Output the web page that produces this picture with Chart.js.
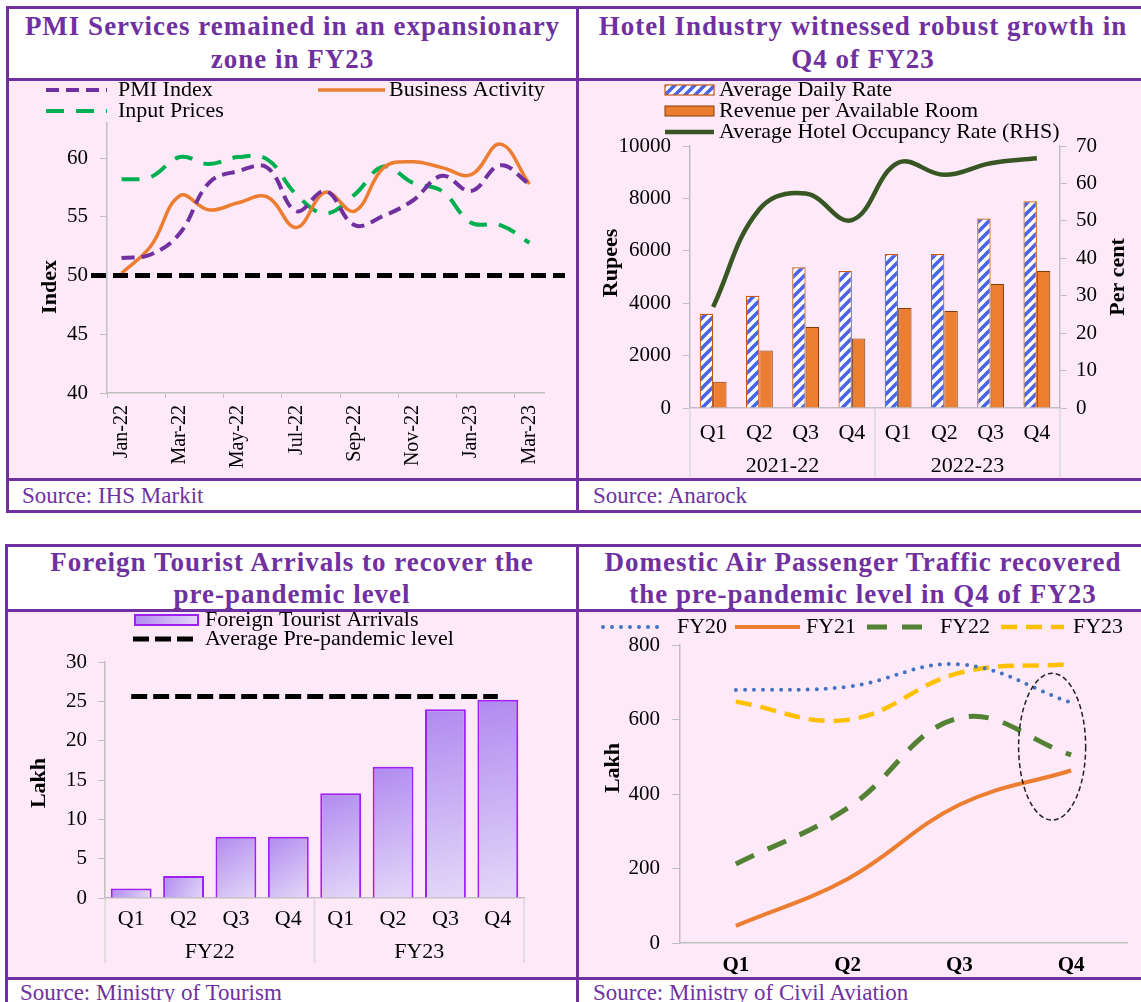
<!DOCTYPE html>
<html>
<head>
<meta charset="utf-8">
<script src="https://cdn.jsdelivr.net/npm/chart.js@4.4.1/dist/chart.umd.min.js"></script>
<style>
  body { margin: 0; background: #fff; width: 1141px; height: 1002px; overflow: hidden; position: relative;
         font-family: "Liberation Serif", "Times New Roman", serif; }
  .box { position: absolute; border: 3px solid #7030A0; box-sizing: border-box; }
  .hl { position: absolute; height: 3px; background: #7030A0; }
  .pink { position: absolute; background: #FDE9F7; }
  .title { position: absolute; color: #7030A0; font-weight: bold; font-size: 27px; letter-spacing: 1px;
           text-align: center; white-space: nowrap; }
  .src { position: absolute; color: #7030A0; font-size: 23px; white-space: nowrap; }
  canvas { position: absolute; }
</style>
</head>
<body>
<!-- top left -->
<div class="box" style="left:6px;top:6px;width:573px;height:507px"></div>
<div class="pink" style="left:9px;top:81px;width:567px;height:397px"></div>
<div class="hl" style="left:6px;top:78px;width:573px"></div>
<div class="hl" style="left:6px;top:478px;width:573px"></div>
<div class="title" style="left:9px;top:10px;width:567px;line-height:33px">PMI Services remained in an expansionary<br>zone in FY23</div>
<div class="src" style="left:22px;top:481px;line-height:29px">Source: IHS Markit</div>
<canvas id="pmi" width="567" height="397" style="left:9px;top:81px"></canvas>

<!-- top right -->
<div class="box" style="left:576px;top:6px;width:580px;height:507px"></div>
<div class="pink" style="left:579px;top:81px;width:574px;height:397px"></div>
<div class="hl" style="left:576px;top:78px;width:580px"></div>
<div class="hl" style="left:576px;top:478px;width:580px"></div>
<div class="title" style="left:579px;top:10px;width:568px;line-height:33px">Hotel Industry witnessed robust growth in<br>Q4 of FY23</div>
<div class="src" style="left:593px;top:481px;line-height:29px">Source: Anarock</div>
<canvas id="hotel" width="562" height="397" style="left:579px;top:81px"></canvas>

<!-- bottom left -->
<div class="box" style="left:5px;top:544px;width:574px;height:480px"></div>
<div class="pink" style="left:8px;top:612px;width:568px;height:365px"></div>
<div class="hl" style="left:5px;top:609px;width:574px"></div>
<div class="hl" style="left:5px;top:977px;width:574px"></div>
<div class="title" style="left:8px;top:546px;width:568px;line-height:32px">Foreign Tourist Arrivals to recover the<br>pre-pandemic level</div>
<div class="src" style="left:20px;top:980px;line-height:26px">Source: Ministry of Tourism</div>
<canvas id="fta" width="568" height="365" style="left:8px;top:612px"></canvas>

<!-- bottom right -->
<div class="box" style="left:576px;top:544px;width:580px;height:480px"></div>
<div class="pink" style="left:579px;top:612px;width:574px;height:365px"></div>
<div class="hl" style="left:576px;top:609px;width:580px"></div>
<div class="hl" style="left:576px;top:977px;width:580px"></div>
<div class="title" style="left:579px;top:546px;width:568px;line-height:32px">Domestic Air Passenger Traffic recovered<br>the pre-pandemic level in Q4 of FY23</div>
<div class="src" style="left:593px;top:980px;line-height:26px">Source: Ministry of Civil Aviation</div>
<canvas id="air" width="562" height="365" style="left:579px;top:612px"></canvas>

<script>
// PMI panel
const pmiMonths = ["Jan-22", "Feb-22", "Mar-22", "Apr-22", "May-22", "Jun-22", "Jul-22", "Aug-22",
  "Sep-22", "Oct-22", "Nov-22", "Dec-22", "Jan-23", "Feb-23", "Mar-23"];
const pmiIndex = [51.5, 51.8, 53.6, 57.9, 58.9, 59.2, 55.5, 57.2, 54.3, 55.1, 56.4, 58.5, 57.2, 59.4, 57.8];
const businessActivity = [50.2, 52.5, 56.8, 55.6, 56.2, 56.7, 54.1, 57.1, 55.5, 59.2, 59.7, 59.2, 58.6, 61.2, 57.8];
const inputPrices = [58.2, 58.4, 60.1, 59.5, 60.1, 59.9, 56.9, 55.3, 56.9, 59.3, 57.9, 57.2, 54.5, 54.3, 52.8];
const pmiThreshold = 50;
const pmiTicks = [40, 45, 50, 55, 60];

// hotel panel
const hotelQuarters = ["Q1", "Q2", "Q3", "Q4", "Q1", "Q2", "Q3", "Q4"];
const hotelYears = ["2021-22", "2022-23"];
const avgDailyRate = [3600, 4280, 5370, 5230, 5880, 5880, 7230, 7890];
const revPar = [1000, 2190, 3090, 2650, 3820, 3700, 4730, 5230];
const occupancy = [27, 53.1, 57.3, 50.2, 65.5, 62.3, 65.4, 66.7];

// foreign tourist panel
const ftaQuarters = ["Q1", "Q2", "Q3", "Q4", "Q1", "Q2", "Q3", "Q4"];
const ftaYears = ["FY22", "FY23"];
const ftaArrivals = [1.2, 2.8, 7.8, 7.8, 13.3, 16.7, 24.0, 25.2];
const prePandemic = [25.6, 25.6, 25.6, 25.6, 25.6, 25.6, 25.6, 25.6];

// air traffic panel
const airQuarters = ["Q1", "Q2", "Q3", "Q4"];
const fy20 = [679, 688, 748, 645];
const fy21 = [46, 172, 371, 463];
const fy22 = [212, 362, 604, 505];
const fy23 = [648, 599, 725, 749];
// dashed ring round Q4 (category index, value, half sizes)
const ring = { index: 2.83, value: 527, halfIndex: 0.3, halfValue: 197 };

const serif = '"Liberation Serif", "Times New Roman", serif';
const axisGray = "#BFBFBF";
Chart.defaults.font.family = serif;
Chart.defaults.font.size = 21;
Chart.defaults.color = "#000";

function strokeLine(ctx, x1, x2, y, color, width, dash, cap) {
  ctx.save();
  ctx.strokeStyle = color;
  ctx.lineWidth = width;
  ctx.setLineDash(dash || []);
  ctx.lineCap = cap || "butt";
  ctx.beginPath();
  ctx.moveTo(x1, y);
  ctx.lineTo(x2, y);
  ctx.stroke();
  ctx.restore();
}

function text(ctx, str, x, y, font, align) {
  ctx.save();
  ctx.font = font || "22px " + serif;
  ctx.fillStyle = "#000";
  ctx.textAlign = align || "left";
  ctx.textBaseline = "middle";
  ctx.fillText(str, x, y);
  ctx.restore();
}

function axisTitle(ctx, str, x, y) {
  ctx.save();
  ctx.translate(x, y);
  ctx.rotate(-Math.PI / 2);
  text(ctx, str, 0, 0, "bold 22px " + serif, "center");
  ctx.restore();
}

function dsLine(ctx, ds, x1, x2, y) {
  strokeLine(ctx, x1, x2, y, ds.borderColor, ds.borderWidth, ds.borderDash, ds.borderCapStyle);
}

function baseOptions(padding) {
  return {
    responsive: false,
    animation: false,
    devicePixelRatio: 1,
    layout: { padding: padding },
    plugins: { legend: { display: false }, tooltip: { enabled: false } },
  };
}

// ---------- PMI ----------
new Chart(document.getElementById("pmi"), {
  type: "line",
  data: {
    labels: pmiMonths,
    datasets: [
      { label: "PMI Index", data: pmiIndex, borderColor: "#7030A0", borderWidth: 4, borderDash: [13, 7], tension: 0.4, pointRadius: 0 },
      { label: "Business Activity", data: businessActivity, borderColor: "#ED7D31", borderWidth: 3.5, tension: 0.4, pointRadius: 0 },
      { label: "Input Prices", data: inputPrices, borderColor: "#00B050", borderWidth: 4, borderDash: [18, 12], tension: 0.4, pointRadius: 0 },
    ],
  },
  options: Object.assign(baseOptions({ top: 42, right: 32, left: 0, bottom: 0 }), {
    scales: {
      x: {
        offset: true,
        grid: { offset: true, drawOnChartArea: false, tickLength: 5, color: (c) => (c.index % 2 === 0 ? axisGray : "transparent") },
        border: { color: axisGray, width: 1.5 },
        ticks: {
          autoSkip: false, minRotation: 90, maxRotation: 90, padding: 7, font: { size: 20 },
          callback: function (value, index) {
            return index % 2 === 0 ? this.getLabelForValue(value) : "";
          },
        },
        afterFit: (s) => { s.height = 85; },
      },
      y: {
        min: 40, max: 63,
        ticks: { padding: 12 },
        afterBuildTicks: (s) => { s.ticks = pmiTicks.map((v) => ({ value: v })); },
        grid: { drawOnChartArea: false, tickLength: 7, color: axisGray },
        border: { color: axisGray, width: 1.5 },
        afterFit: (s) => { s.width = 98; },
      },
    },
  }),
  plugins: [{
    id: "pmiExtras",
    afterDatasetsDraw(chart) {
      const { ctx, chartArea, scales } = chart;
      const ds = chart.data.datasets;
      const y50 = scales.y.getPixelForValue(pmiThreshold);
      strokeLine(ctx, chartArea.left - 16, chartArea.right + 21, y50, "#000", 5, [15, 7]);
      dsLine(ctx, ds[0], 37, 98, 9);
      text(ctx, ds[0].label, 109, 9);
      dsLine(ctx, ds[1], 309, 376, 9);
      text(ctx, ds[1].label, 380, 9);
      dsLine(ctx, ds[2], 37, 98, 30);
      text(ctx, ds[2].label, 109, 30);
      axisTitle(ctx, "Index", 41, 206);
    },
  }],
});

// ---------- Hotel ----------
const hotelCtx = document.getElementById("hotel").getContext("2d");
function hatchPattern() {
  const c = document.createElement("canvas");
  c.width = 10; c.height = 10;
  const g = c.getContext("2d");
  g.fillStyle = "#fff";
  g.fillRect(0, 0, 10, 10);
  g.strokeStyle = "#4A63E7";
  g.lineWidth = 3.6;
  g.beginPath();
  g.moveTo(0, 10); g.lineTo(10, 0);
  g.moveTo(-5, 5); g.lineTo(5, -5);
  g.moveTo(5, 15); g.lineTo(15, 5);
  g.stroke();
  return hotelCtx.createPattern(c, "repeat");
}
const hatch = hatchPattern();

new Chart(hotelCtx, {
  type: "bar",
  data: {
    labels: hotelQuarters,
    datasets: [
      { label: "Average Daily Rate", data: avgDailyRate, backgroundColor: hatch, borderColor: "#C65911", borderWidth: 1.2,
        categoryPercentage: 0.58, barPercentage: 1, order: 1 },
      { label: "Revenue per Available Room", data: revPar, backgroundColor: "#ED7D31", borderColor: "#843C0C", borderWidth: 1,
        categoryPercentage: 0.58, barPercentage: 1, order: 1 },
      { type: "line", label: "Average Hotel Occupancy Rate (RHS)", data: occupancy, yAxisID: "y1", borderColor: "#375623",
        borderWidth: 4.5, tension: 0.4, pointRadius: 0, order: 0 },
    ],
  },
  options: Object.assign(baseOptions({ top: 65, right: 0, left: 0, bottom: 0 }), {
    scales: {
      x: {
        grid: { display: false },
        border: { color: axisGray, width: 1.5 },
        ticks: { padding: 4, font: { size: 22 } },
        afterFit: (s) => { s.height = 70; },
      },
      y: {
        min: 0, max: 10000,
        ticks: { stepSize: 2000, padding: 12, callback: (v) => String(v) },
        grid: { drawOnChartArea: false, tickLength: 7, color: axisGray },
        border: { color: axisGray, width: 1.5 },
        afterFit: (s) => { s.width = 111; },
      },
      y1: {
        position: "right",
        min: 0, max: 70,
        ticks: { stepSize: 10, padding: 9 },
        grid: { drawOnChartArea: false, tickLength: 7, color: axisGray },
        border: { color: axisGray, width: 1.5 },
        afterFit: (s) => { s.width = 81; },
      },
    },
  }),
  plugins: [{
    id: "hotelExtras",
    afterDatasetsDraw(chart) {
      const { ctx, chartArea, scales } = chart;
      const ds = chart.data.datasets;
      const x = scales.x;
      // group labels and separators
      ctx.save();
      ctx.strokeStyle = "#D9D9D9";
      ctx.lineWidth = 1.5;
      [-0.5, 3.5, 7.5].forEach((v) => {
        const px = x.getPixelForValue(v);
        ctx.beginPath(); ctx.moveTo(px, chartArea.bottom); ctx.lineTo(px, 396); ctx.stroke();
      });
      ctx.restore();
      hotelYears.forEach((yr, i) => {
        const px = (x.getPixelForValue(i * 4) + x.getPixelForValue(i * 4 + 3)) / 2;
        text(ctx, yr, px, 385, "22px " + serif, "center");
      });
      // legend
      ctx.save();
      ctx.fillStyle = ds[0].backgroundColor;
      ctx.fillRect(86, 4, 49, 10);
      ctx.strokeStyle = ds[0].borderColor; ctx.lineWidth = 1.2;
      ctx.strokeRect(86, 4, 49, 10);
      ctx.fillStyle = ds[1].backgroundColor;
      ctx.fillRect(86, 25, 49, 10);
      ctx.strokeStyle = ds[1].borderColor; ctx.lineWidth = 1;
      ctx.strokeRect(86, 25, 49, 10);
      ctx.restore();
      dsLine(ctx, ds[2], 86, 135, 51);
      text(ctx, ds[0].label, 140, 9);
      text(ctx, ds[1].label, 140, 30);
      text(ctx, ds[2].label, 140, 51);
      axisTitle(ctx, "Rupees", 32, 182);
      axisTitle(ctx, "Per cent", 539, 196);
    },
  }],
});

// ---------- Foreign tourist arrivals ----------
function lavender(ctx, x0, y0, x1, y1) {
  const g = ctx.createLinearGradient(x0, y0, x1, y1);
  g.addColorStop(0, "#B08AF0");
  g.addColorStop(1, "#E4D8F8");
  return g;
}

new Chart(document.getElementById("fta"), {
  type: "bar",
  data: {
    labels: ftaQuarters,
    datasets: [
      {
        label: "Foreign Tourist Arrivals", data: ftaArrivals, borderColor: "#A020F0", borderWidth: 2,
        categoryPercentage: 1, barPercentage: 0.78, order: 1,
        backgroundColor: (c) => {
          const chart = c.chart;
          if (!chart.chartArea || c.dataIndex === undefined) return "#C9B2F4";
          const xs = chart.scales.x, ys = chart.scales.y;
          const cx = xs.getPixelForValue(c.dataIndex);
          const half = (xs.width / ftaQuarters.length) * 0.39;
          return lavender(chart.ctx, cx - half, ys.getPixelForValue(c.raw), cx + half, chart.chartArea.bottom);
        },
      },
      { type: "line", label: "Average Pre-pandemic level", data: prePandemic, borderColor: "#000", borderWidth: 5,
        borderDash: [16, 6], pointRadius: 0, order: 0 },
    ],
  },
  options: Object.assign(baseOptions({ top: 50, right: 52, left: 0, bottom: 0 }), {
    scales: {
      x: {
        grid: { display: false },
        border: { color: axisGray, width: 1.5 },
        ticks: { padding: 0, font: { size: 22 } },
        afterFit: (s) => { s.height = 79; },
      },
      y: {
        min: 0, max: 30,
        ticks: { stepSize: 5, padding: 11 },
        grid: { drawOnChartArea: false, tickLength: 7, color: axisGray },
        border: { color: axisGray, width: 1.5 },
        afterFit: (s) => { s.width = 97; },
      },
    },
  }),
  plugins: [{
    id: "ftaExtras",
    afterDatasetsDraw(chart) {
      const { ctx, chartArea, scales } = chart;
      const ds = chart.data.datasets;
      const x = scales.x;
      ctx.save();
      ctx.strokeStyle = "#D9D9D9";
      ctx.lineWidth = 1.5;
      [-0.5, 3.5, 7.5].forEach((v) => {
        const px = x.getPixelForValue(v);
        ctx.beginPath(); ctx.moveTo(px, chartArea.bottom); ctx.lineTo(px, 351); ctx.stroke();
      });
      ctx.restore();
      ftaYears.forEach((yr, i) => {
        const px = (x.getPixelForValue(i * 4) + x.getPixelForValue(i * 4 + 3)) / 2;
        text(ctx, yr, px, 340, "22px " + serif, "center");
      });
      ctx.save();
      ctx.fillStyle = lavender(ctx, 127, 3, 190, 13);
      ctx.fillRect(127, 3, 63, 10);
      ctx.strokeStyle = ds[0].borderColor; ctx.lineWidth = 2;
      ctx.strokeRect(127, 3, 63, 10);
      ctx.restore();
      text(ctx, ds[0].label, 197, 8);
      dsLine(ctx, ds[1], 125, 186, 27);
      text(ctx, ds[1].label, 197, 27);
      axisTitle(ctx, "Lakh", 31, 171);
    },
  }],
});

// ---------- Domestic air traffic ----------
new Chart(document.getElementById("air"), {
  type: "line",
  data: {
    labels: airQuarters,
    datasets: [
      { label: "FY20", data: fy20, borderColor: "#4472C4", borderWidth: 4, borderDash: [0, 9], borderCapStyle: "round", tension: 0.4, pointRadius: 0 },
      { label: "FY21", data: fy21, borderColor: "#ED7D31", borderWidth: 4, tension: 0.4, pointRadius: 0 },
      { label: "FY22", data: fy22, borderColor: "#548235", borderWidth: 5, borderDash: [20, 15], tension: 0.4, pointRadius: 0 },
      { label: "FY23", data: fy23, borderColor: "#FFC000", borderWidth: 4.5, borderDash: [16, 9], tension: 0.4, pointRadius: 0 },
    ],
  },
  options: Object.assign(baseOptions({ top: 33, right: 14, left: 0, bottom: 0 }), {
    scales: {
      x: {
        offset: true,
        grid: { display: false },
        border: { color: axisGray, width: 1.5 },
        ticks: { padding: 2, font: { size: 21, weight: "bold" } },
        afterFit: (s) => { s.height = 34; },
      },
      y: {
        min: 0, max: 800,
        ticks: { stepSize: 200, padding: 12 },
        grid: { drawOnChartArea: false, tickLength: 8, color: axisGray },
        border: { color: axisGray, width: 1.5 },
        afterFit: (s) => { s.width = 101; },
      },
    },
  }),
  plugins: [{
    id: "airExtras",
    afterDatasetsDraw(chart) {
      const { ctx, scales } = chart;
      const ds = chart.data.datasets;
      const cx = scales.x.getPixelForValue(ring.index);
      const rx = scales.x.getPixelForValue(ring.index + ring.halfIndex) - cx;
      const cy = scales.y.getPixelForValue(ring.value);
      const ry = cy - scales.y.getPixelForValue(ring.value + ring.halfValue);
      ctx.save();
      ctx.strokeStyle = "#222";
      ctx.lineWidth = 1.5;
      ctx.setLineDash([5, 3]);
      ctx.beginPath();
      ctx.ellipse(cx, cy, rx, ry, 0, 0, Math.PI * 2);
      ctx.stroke();
      ctx.restore();
      const items = [[24, 83, 98], [156, 221, 227], [288, 353, 361], [422, 485, 494]];
      items.forEach((it, i) => {
        dsLine(ctx, ds[i], it[0], it[1], 15);
        text(ctx, ds[i].label, it[2], 15);
      });
      axisTitle(ctx, "Lakh", 34, 156);
    },
  }],
});
</script>
</body>
</html>
